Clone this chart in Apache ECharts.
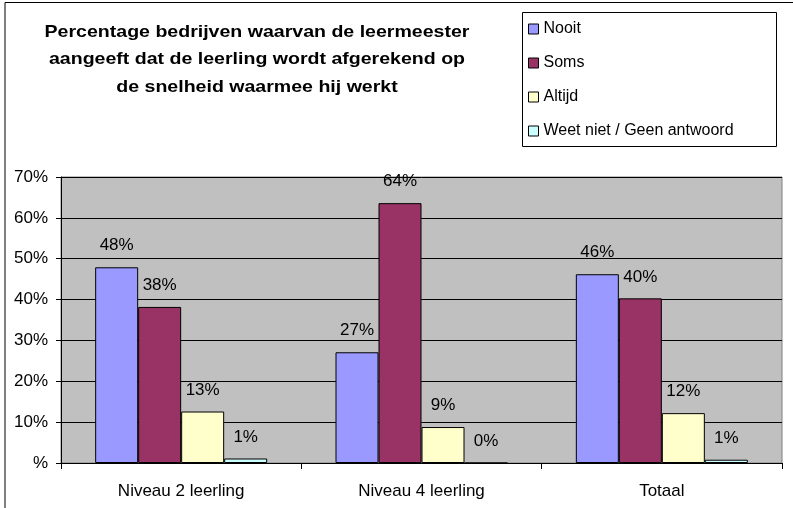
<!DOCTYPE html>
<html>
<head>
<meta charset="utf-8">
<script src="https://cdn.jsdelivr.net/npm/echarts@6/dist/echarts.min.js"></script>
<style>
  html, body { margin: 0; padding: 0; background: #fff; }
  #chart { width: 793px; height: 508px; }
</style>
</head>
<body>
<div id="chart"></div>
<script>
  var categories = ['Niveau 2 leerling', 'Niveau 4 leerling', 'Totaal'];
  var seriesNames = ['Nooit', 'Soms', 'Altijd', 'Weet niet / Geen antwoord'];
  var nooit = [47.9, 27.1, 46.2];
  var soms = [38.2, 63.6, 40.3];
  var altijd = [12.6, 8.8, 12.2];
  var weetNiet = [1.1, 0, 0.8];
  var yTicks = [0, 10, 20, 30, 40, 50, 60, 70];
  var colors = ['#9999FF', '#993366', '#FFFFCC', '#CCFFFF'];
  var titleLines = [
    'Percentage bedrijven waarvan de leermeester',
    'aangeeft dat de leerling wordt afgerekend op',
    'de snelheid waarmee hij werkt'
  ];

  var font = 'Liberation Sans, Arial, sans-serif';
  var chart = echarts.init(document.getElementById('chart'));

  var labelOption = {
    show: true,
    position: 'top',
    distance: 13,
    color: '#000',
    fontFamily: font,
    fontSize: 17,
    formatter: function (p) { return Math.round(p.value) + '%'; }
  };

  function bar(name, data, i) {
    return {
      name: name,
      type: 'bar',
      data: data,
      barWidth: 43,
      barGap: '0%',
      itemStyle: { color: colors[i], borderColor: '#000', borderWidth: 1 },
      label: labelOption,
      emphasis: { disabled: true }
    };
  }

  var option = {
    animation: false,
    backgroundColor: '#fff',
    color: colors,
    graphic: [
      {
        type: 'polyline',
        shape: { points: [[5, 508], [5, 2.5], [793, 2.5]] },
        style: { stroke: '#000', lineWidth: 1, fill: null }
      },
      {
        type: 'rect',
        shape: { x: 522.5, y: 12.5, width: 254, height: 134 },
        style: { stroke: '#000', lineWidth: 1, fill: '#fff' },
        z: -1
      },
      {
        type: 'text',
        x: 257, y: 32,
        scaleX: 1.15,
        style: {
          text: titleLines[0],
          font: 'bold 17px ' + font,
          fill: '#000',
          align: 'center',
          verticalAlign: 'middle'
        }
      },
      {
        type: 'text',
        x: 257, y: 59.5,
        scaleX: 1.15,
        style: {
          text: titleLines[1],
          font: 'bold 17px ' + font,
          fill: '#000',
          align: 'center',
          verticalAlign: 'middle'
        }
      },
      {
        type: 'text',
        x: 257, y: 87,
        scaleX: 1.15,
        style: {
          text: titleLines[2],
          font: 'bold 17px ' + font,
          fill: '#000',
          align: 'center',
          verticalAlign: 'middle'
        }
      }
    ],
    legend: {
      data: seriesNames,
      orient: 'vertical',
      left: 528,
      top: 20,
      padding: 0,
      itemGap: 16,
      itemWidth: 10,
      itemHeight: 10,
      icon: 'rect',
      selectedMode: false,
      itemStyle: { borderColor: '#000', borderWidth: 1 },
      textStyle: { fontFamily: font, fontSize: 16, color: '#000', lineHeight: 18 }
    },
    grid: {
      left: 61,
      right: 11,
      top: 177,
      bottom: 45,
      show: true,
      backgroundColor: '#C0C0C0',
      borderColor: '#808080',
      borderWidth: 1
    },
    xAxis: {
      type: 'category',
      data: categories,
      axisLine: { lineStyle: { color: '#000', width: 1 } },
      axisTick: { show: true, interval: 0, length: 6, lineStyle: { color: '#000' } },
      axisLabel: { color: '#000', fontFamily: font, fontSize: 17, margin: 20 }
    },
    yAxis: {
      type: 'value',
      min: yTicks[0],
      max: yTicks[yTicks.length - 1],
      interval: 10,
      axisLine: { show: true, lineStyle: { color: '#000', width: 1 } },
      axisTick: { show: true, length: 5, lineStyle: { color: '#000' } },
      splitLine: { show: true, lineStyle: { color: '#000', width: 1 } },
      axisLabel: {
        color: '#000',
        fontFamily: font,
        fontSize: 17,
        margin: 13,
        formatter: function (v) { return v === 0 ? '%' : v + '%'; }
      }
    },
    series: [
      bar(seriesNames[0], nooit, 0),
      bar(seriesNames[1], soms, 1),
      bar(seriesNames[2], altijd, 2),
      bar(seriesNames[3], weetNiet, 3)
    ]
  };

  chart.setOption(option);
</script>
</body>
</html>
